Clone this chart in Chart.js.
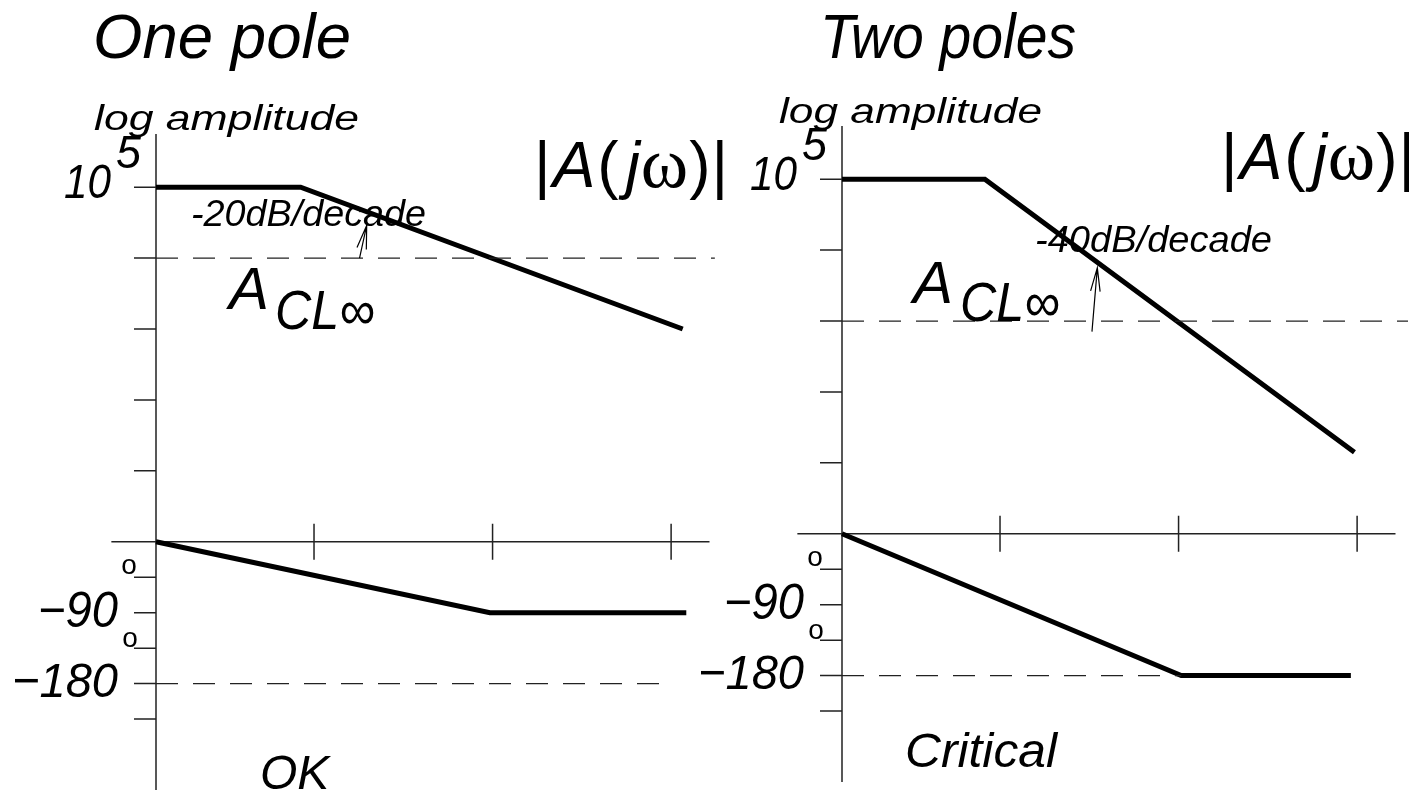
<!DOCTYPE html>
<html>
<head>
<meta charset="utf-8">
<title>Bode plots: one pole and two poles</title>
<script src="https://cdn.jsdelivr.net/npm/chart.js@4.4.1/dist/chart.umd.min.js"></script>
<style>
  html, body { margin: 0; padding: 0; background: #fff; }
  #wrap { position: relative; width: 1409px; height: 794px; }
  #wrap canvas { position: absolute; left: 0; top: 0; }
</style>
</head>
<body>
<div id="wrap">
  <canvas id="onePole" width="1409" height="794"></canvas>
  <canvas id="twoPoles" width="1409" height="794"></canvas>
</div>
<script>
// x: decades from the vertical axis, magnitude: log10 of gain, phase: degrees
const freqTicks = [0.885, 1.885, 2.885];
const magTicks = [5, 4, 3, 2, 1];
const phaseTicks = [-45, -90, -135, -180, -225];

// one pole: -20dB/decade
const onePoleMagFreq = [0, 0.81, 2.95];
const onePoleMag = [5, 5, 3];
const onePolePhaseFreq = [0, 1.87, 2.97];
const onePolePhase = [0, -90, -90];
const onePoleAcl = 4;

// two poles: -40dB/decade
const twoPoleMagFreq = [0, 0.80, 2.87];
const twoPoleMag = [5, 5, 1.15];
const twoPolePhaseFreq = [0, 1.90, 2.85];
const twoPolePhase = [0, -180, -180];
const twoPoleAcl = 3;

const SANS = '"Liberation Sans", Arial, Helvetica, sans-serif';
const SERIF = '"Liberation Serif", "Times New Roman", serif';

const pts = (xs, ys) => xs.map((x, i) => ({ x, y: ys[i] }));

// text helper: optional horizontal squeeze/stretch to a given width
function label(ctx, s, x, y, size, opt = {}) {
  ctx.save();
  ctx.font = (opt.upright ? '' : 'italic ') + size + 'px ' + (opt.family || SANS);
  ctx.fillStyle = '#000';
  ctx.textBaseline = 'alphabetic';
  ctx.textAlign = 'left';
  const w = ctx.measureText(s).width;
  const sx = opt.width ? opt.width / w : 1;
  let x0 = x;
  if (opt.align === 'right') x0 = x - w * sx;
  if (opt.align === 'center') x0 = x - w * sx / 2;
  ctx.translate(x0, y);
  ctx.scale(sx, 1);
  ctx.fillText(s, 0, 0);
  ctx.restore();
  return w * sx;
}

// |A(jω)| built from pieces in mixed fonts
function magLabel(ctx, x, y, size) {
  const parts = [
    ['|', { upright: true }, 0],
    ['A', {}, 2],
    ['(', { upright: true }, 2],
    ['j', {}, 7],
    ['\u03C9', { upright: true, family: SERIF }, 1],
    [')', { upright: true }, 1],
    ['|', { upright: true }, 1]
  ];
  let cx = x;
  parts.forEach(([s, opt, gap]) => {
    cx += gap;
    cx += label(ctx, s, cx, y, s === '\u03C9' ? size + 8 : size, opt);
  });
}

function arrow(ctx, x1, y1, x2, y2) {
  const ang = Math.atan2(y2 - y1, x2 - x1);
  const len = 24, spread = 0.2;
  ctx.save();
  ctx.strokeStyle = '#000';
  ctx.lineWidth = 1.2;
  ctx.beginPath();
  ctx.moveTo(x1, y1); ctx.lineTo(x2, y2);
  ctx.moveTo(x2 - len * Math.cos(ang - spread), y2 - len * Math.sin(ang - spread));
  ctx.lineTo(x2, y2);
  ctx.lineTo(x2 - len * Math.cos(ang + spread), y2 - len * Math.sin(ang + spread));
  ctx.stroke();
  ctx.restore();
}

function bodePlugin(panel) {
  return {
    id: 'bode',
    beforeDatasetsDraw(chart) {
      const { ctx, chartArea } = chart;
      const { x, mag, phase } = chart.scales;
      const x0 = x.getPixelForValue(0);
      const y0 = mag.getPixelForValue(0);
      ctx.save();
      ctx.strokeStyle = '#222';
      ctx.lineWidth = 1.5;
      ctx.beginPath();
      ctx.moveTo(x0, chartArea.top);
      ctx.lineTo(x0, chartArea.bottom);
      ctx.moveTo(x.getPixelForValue(-0.25), y0);
      ctx.lineTo(x.getPixelForValue(panel.axisEnd), y0);
      magTicks.forEach(v => {
        const y = mag.getPixelForValue(v);
        ctx.moveTo(x0 - 22, y); ctx.lineTo(x0, y);
      });
      phaseTicks.forEach(v => {
        const y = phase.getPixelForValue(v);
        ctx.moveTo(x0 - 22, y); ctx.lineTo(x0, y);
      });
      freqTicks.forEach(v => {
        const xp = x.getPixelForValue(v);
        ctx.moveTo(xp, y0 - 18); ctx.lineTo(xp, y0 + 18);
      });
      ctx.stroke();
      ctx.restore();
    },
    afterDatasetsDraw(chart) {
      const { ctx } = chart;
      const { x, mag, phase } = chart.scales;
      const x0 = x.getPixelForValue(0);

      // A_CL∞ arrow
      const a = panel.arrow;
      arrow(ctx, x.getPixelForValue(a[0][0]), mag.getPixelForValue(a[0][1]),
                 x.getPixelForValue(a[1][0]), mag.getPixelForValue(a[1][1]));

      // tick labels
      const y5 = mag.getPixelForValue(5);
      label(ctx, '10', x0 - 92, y5 + 11, 48, { width: 47 });
      label(ctx, '5', x0 - 40, y5 - 19, 46, { width: 25 });
      label(ctx, '\u221290', x0 - 38, phase.getPixelForValue(-90) + 14, 50, { align: 'right', width: 80 });
      label(ctx, '\u2212180', x0 - 38, phase.getPixelForValue(-180) + 13, 49, { align: 'right', width: 106 });
      label(ctx, 'o', x0 - 27, phase.getPixelForValue(-45) - 3, 28, { upright: true, align: 'center' });
      label(ctx, 'o', x0 - 26, phase.getPixelForValue(-135) - 1, 28, { upright: true, align: 'center' });

      panel.texts.forEach(t => label(ctx, t.s, t.x, t.y, t.size, { width: t.w }));
      magLabel(ctx, panel.magLabel[0], panel.magLabel[1], 64);
    }
  };
}

function makeChart(id, panel) {
  const dashed = { borderColor: '#222', borderWidth: 1.3, borderDash: [22, 15] };
  const solid = { borderColor: '#000', borderWidth: 5, borderJoinStyle: 'miter', borderCapStyle: 'butt' };
  return new Chart(document.getElementById(id), {
    type: 'line',
    data: {
      datasets: [
        { ...dashed, yAxisID: 'mag', data: pts([0, panel.aclEnd], [panel.acl, panel.acl]) },
        { ...dashed, yAxisID: 'phase', data: pts([0, panel.m180End], [-180, -180]) },
        { ...solid, yAxisID: 'mag', data: pts(panel.magFreq, panel.mag) },
        { ...solid, yAxisID: 'phase', data: pts(panel.phaseFreq, panel.phase) }
      ]
    },
    options: {
      responsive: false,
      animation: false,
      events: [],
      layout: { padding: panel.padding },
      elements: { point: { radius: 0 }, line: { tension: 0, fill: false } },
      datasets: { line: { clip: false } },
      plugins: { legend: { display: false }, tooltip: { enabled: false } },
      scales: {
        x: { type: 'linear', display: false, min: 0, max: 3.17 },
        mag: { type: 'linear', display: false, min: -3.5, max: 5.75 },
        phase: { type: 'linear', display: false, min: -315, max: 517.5 }
      }
    },
    plugins: [bodePlugin(panel)]
  });
}

makeChart('onePole', {
  padding: { left: 156, right: 687, top: 134, bottom: 4 },
  magFreq: onePoleMagFreq, mag: onePoleMag,
  phaseFreq: onePolePhaseFreq, phase: onePolePhase,
  acl: onePoleAcl, aclEnd: 3.13, m180End: 2.82, axisEnd: 3.1,
  arrow: [[1.14, 4], [1.18, 4.46]],
  magLabel: [534, 187],
  texts: [
    { s: 'One pole', x: 93, y: 58, size: 63, w: 258 },
    { s: 'log amplitude', x: 94, y: 130, size: 35, w: 265 },
    { s: '-20dB/decade', x: 191, y: 226, size: 36, w: 235 },
    { s: 'A', x: 229, y: 309, size: 60 },
    { s: 'CL\u221E', x: 275, y: 329, size: 55, w: 100 },
    { s: 'OK', x: 260, y: 789, size: 48 }
  ]
});

makeChart('twoPoles', {
  padding: { left: 842, right: 1, top: 126, bottom: 12 },
  magFreq: twoPoleMagFreq, mag: twoPoleMag,
  phaseFreq: twoPolePhaseFreq, phase: twoPolePhase,
  acl: twoPoleAcl, aclEnd: 3.17, m180End: 1.90, axisEnd: 3.1,
  arrow: [[1.40, 2.85], [1.43, 3.75]],
  magLabel: [1221, 179],
  texts: [
    { s: 'Two poles', x: 820, y: 58, size: 63, w: 256 },
    { s: 'log amplitude', x: 779, y: 123, size: 35, w: 263 },
    { s: '-40dB/decade', x: 1035, y: 252, size: 36, w: 237 },
    { s: 'A', x: 913, y: 303, size: 60 },
    { s: 'CL\u221E', x: 960, y: 321, size: 55, w: 100 },
    { s: 'Critical', x: 905, y: 767, size: 48, w: 152 }
  ]
});
</script>
</body>
</html>
